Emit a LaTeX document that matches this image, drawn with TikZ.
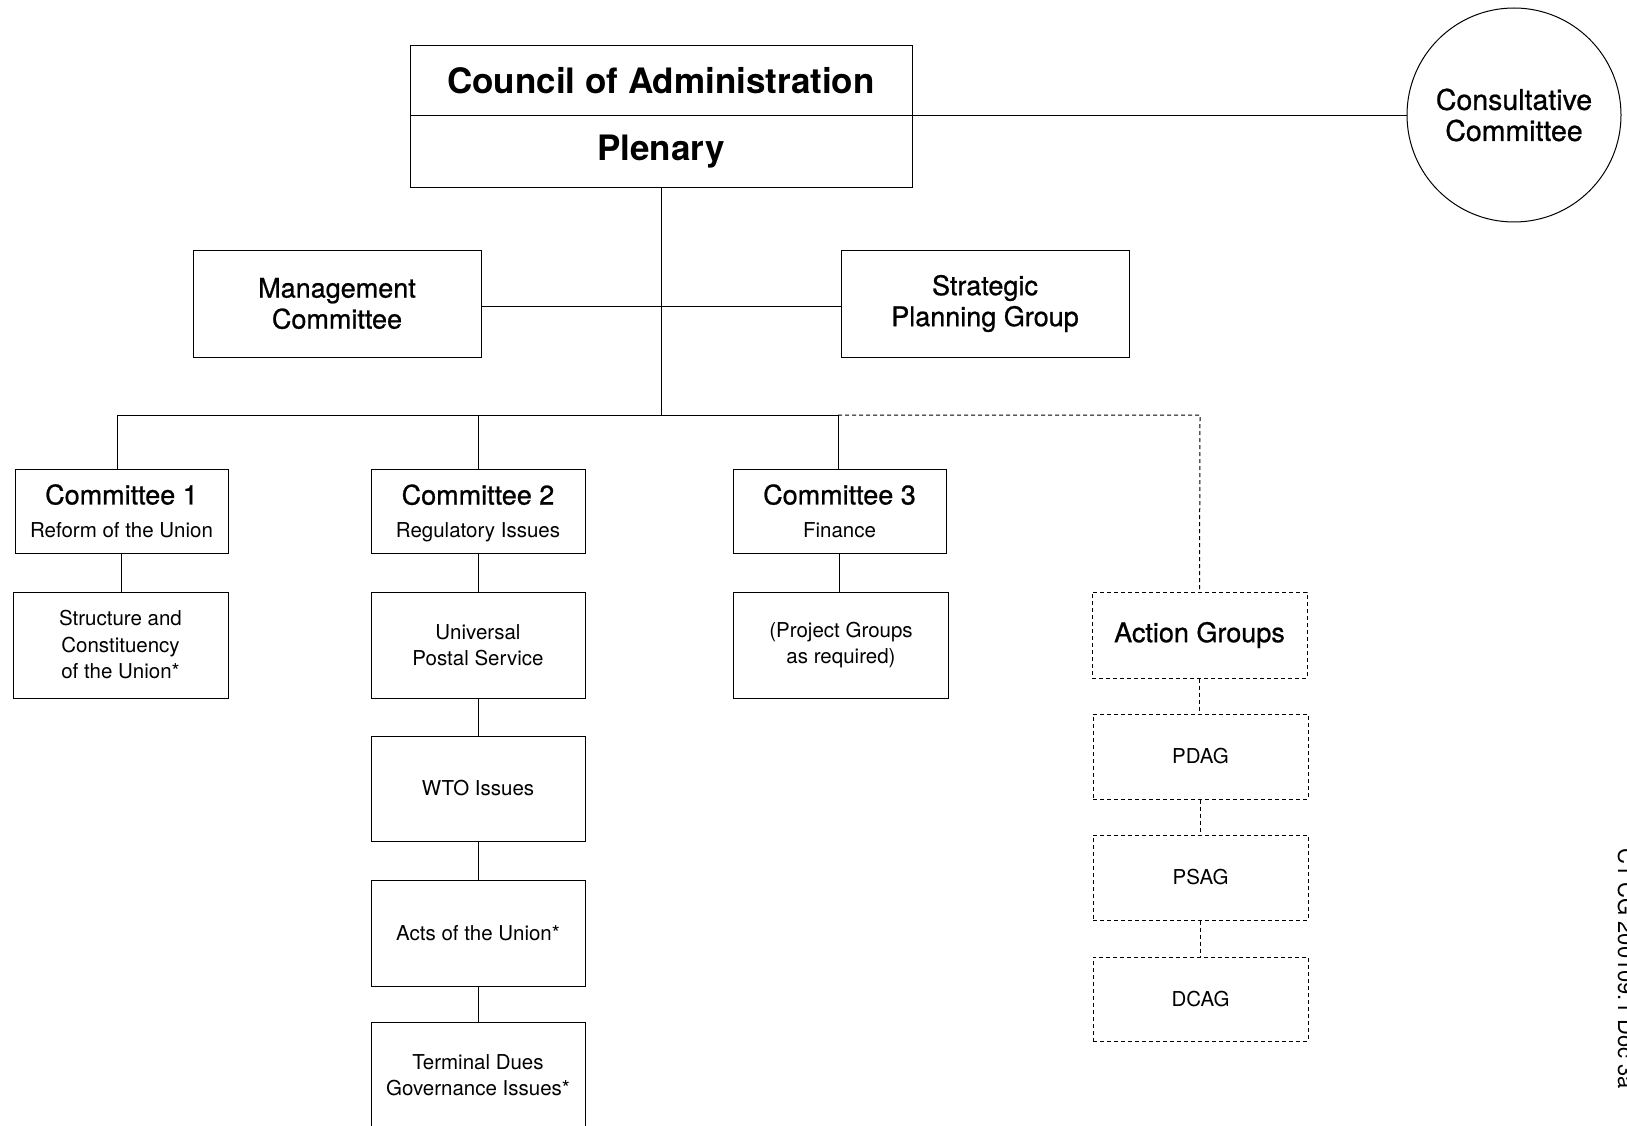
\documentclass[tikz,border=0pt]{standalone}
\usepackage{fontspec}
\setmainfont{TeX Gyre Heros}
\newfontfamily\medfont[FakeBold=0.8]{TeX Gyre Heros}
\begin{document}
\begin{tikzpicture}[x=1pt,y=-1pt,
  box/.style={draw,line width=1pt,rectangle,inner sep=0pt,align=center},
  dbox/.style={box,dashed,dash pattern=on 4pt off 3pt},
  combox/.style={box,font=\fontsize{20.5}{33}\selectfont},
  conn/.style={line width=1pt},
  dconn/.style={line width=1pt,dash pattern=on 4pt off 3pt},
  bigtxt/.style={font=\fontsize{35}{40}\bfseries\selectfont},
  medtxt/.style={font=\fontsize{27}{31}\medfont\selectfont},
  smtxt/.style={font=\fontsize{20.5}{26.5}\selectfont}]
\useasboundingbox (0,0) rectangle (1627,1126);
\clip (0,0) rectangle (1627,1126);
\fill[white] (0,0) rectangle (1627,1126);
% top
\node[box,bigtxt,minimum width=502pt,minimum height=70pt] (coa) at (661,80.5) {Council of Administration};
\node[box,bigtxt,minimum width=502pt,minimum height=72pt] (plen) at (661,152) {Plenary};
\node[draw,line width=1pt,circle,minimum size=214pt,inner sep=0pt,align=center,font=\fontsize{28.5}{31}\medfont\selectfont] (cc) at (1514,115) {Consultative\\Committee};
% second level
\node[box,medtxt,minimum width=288pt,minimum height=107pt] (mgmt) at (337,303.5) {Management\\Committee};
\node[box,medtxt,minimum width=288pt,minimum height=107pt] (spg) at (985,303.5) {Strategic\\Planning Group};
% committees
\node[combox,minimum width=213pt,minimum height=84pt] (c1) at (121.5,511) {{\fontsize{27}{33}\medfont\selectfont Committee 1}\\Reform of the Union};
\node[combox,minimum width=214pt,minimum height=84pt] (c2) at (478,511) {{\fontsize{27}{33}\medfont\selectfont Committee 2}\\\smash{Regulatory Issues}};
\node[combox,minimum width=213pt,minimum height=84pt] (c3) at (839.5,511) {{\fontsize{27}{33}\medfont\selectfont Committee 3}\\Finance};
% row 2
\node[box,smtxt,minimum width=215pt,minimum height=106pt] (sc) at (120.5,645) {Structure and\\Constituency\\of the Union*};
\node[box,smtxt,minimum width=214pt,minimum height=106pt] (ups) at (478,645) {Universal\\Postal Service};
\node[box,smtxt,minimum width=215pt,minimum height=106pt] (pg) at (841,645) {(Project Groups\\as required)};
\node[box,smtxt,minimum width=214pt,minimum height=105pt] (wto) at (478,788.5) {WTO Issues};
\node[box,smtxt,minimum width=214pt,minimum height=106pt] (acts) at (478,933) {Acts of the Union*};
\node[box,smtxt,minimum width=214pt,minimum height=106pt] (td) at (478,1075) {Terminal Dues\\Governance Issues*};
% action groups
\node[dbox,medtxt,minimum width=215pt,minimum height=86pt] (ag) at (1199.5,635) {Action Groups};
\node[dbox,smtxt,minimum width=215pt,minimum height=85pt] (pdag) at (1200.5,756.5) {PDAG};
\node[dbox,smtxt,minimum width=215pt,minimum height=85pt] (psag) at (1200.5,877.5) {PSAG};
\node[dbox,smtxt,minimum width=215pt,minimum height=84pt] (dcag) at (1200.5,999) {DCAG};
% bus coordinates
\coordinate (bus) at (661,415);
\coordinate (busL) at (117,415);
\coordinate (busR) at (838,415);
\coordinate (busD) at (1200,415);
% connectors
\draw[conn] (coa.south east) -- (coa.south east -| cc.west);
\draw[conn] (plen.south) -- (bus);
\draw[conn] ([yshift=-3pt]mgmt.east) -- ([yshift=-3pt]spg.west);
\draw[conn] (busL) -- (busR);
\draw[conn] (busL) -- (busL |- c1.north);
\draw[conn] (c2.north |- bus) -- (c2.north);
\draw[conn] (busR) -- (busR |- c3.north);
\draw[dconn] (busR) -- (busD) -- (ag.north);
\draw[conn] (c1.south) -- (sc.north -| c1.south);
\draw[conn] (c2.south) -- (ups.north);
\draw[conn] (c3.south) -- (pg.north -| c3.south);
\draw[conn] (ups.south) -- (wto.north);
\draw[conn] (wto.south) -- (acts.north);
\draw[conn] (acts.south) -- (td.north);
\draw[dconn] (ag.south) -- (pdag.north -| ag.south);
\draw[dconn] (pdag.south) -- (psag.north);
\draw[dconn] (psag.south) -- (dcag.north);
% side reference (clipped at the page edge)
\node[rotate=-90,anchor=base west,inner sep=0pt,font=\fontsize{22}{26}\selectfont] (ref) at (1618,848) {C1 CG 200109.1 Doc 3a};
\end{tikzpicture}
\end{document}
